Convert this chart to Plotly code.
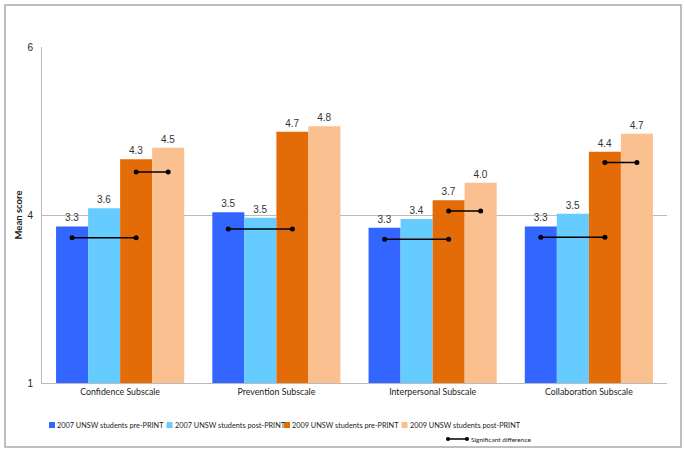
import plotly.graph_objects as go

categories = ["Confidence Subscale", "Prevention Subscale", "Interpersonal Subscale", "Collaboration Subscale"]
series_names = ["2007 UNSW students pre-PRINT", "2007 UNSW students post-PRINT",
                "2009 UNSW students pre-PRINT", "2009 UNSW students post-PRINT"]
pre_2007 = [3.33, 3.54, 3.31, 3.33]
post_2007 = [3.60, 3.46, 3.44, 3.52]
pre_2009 = [4.33, 4.74, 3.72, 4.44]
post_2009 = [4.50, 4.82, 3.98, 4.71]
series_values = [pre_2007, post_2007, pre_2009, post_2009]
colors = ["#3366FF", "#66CCFF", "#E36C09", "#FAC090"]

# significant-difference markers (y level), lower: bar1->bar3, upper: bar3->bar4
sig_lower = [3.16, 3.29, 3.14, 3.17]
sig_upper = [4.14, None, 3.56, 4.28]
sig_label = "Significant difference"

y_tickvals = [1, 3.5, 6]
y_ticktext = ["1", "4", "6"]

bargap = 0.18
bar_w = (1 - bargap) / 4
xs = list(range(len(categories)))

def bar_center(i, k):
    return i + (k - 1.5) * bar_w

fig = go.Figure()
for k, (name, vals, c) in enumerate(zip(series_names, series_values, colors)):
    fig.add_trace(go.Bar(
        x=xs, y=vals, name=name, marker=dict(color=c, line=dict(width=0)),
        texttemplate="%{y:.1f}", textposition="outside",
        textfont=dict(family="Liberation Sans, Arial", size=10, color="#333333"),
        showlegend=False, cliponaxis=False,
    ))

for i in xs:
    for lvl, (a, b) in ((sig_lower[i], (0, 2)), (sig_upper[i], (2, 3))):
        if lvl is None:
            continue
        fig.add_trace(go.Scatter(
            x=[bar_center(i, a), bar_center(i, b)], y=[lvl, lvl],
            mode="lines+markers", line=dict(color="black", width=1.5),
            marker=dict(color="black", size=5), name=sig_label,
            showlegend=False, cliponaxis=False,
        ))

W, H = 685, 453
L, R, T, B = 42, 18, 47, 70
pw, ph = W - L - R, H - T - B

def px(x):
    return (x - L) / pw

def py(y):
    return (H - B - y) / ph

shapes = [dict(type="rect", xref="paper", yref="paper",
               x0=px(5), x1=px(681), y0=py(447), y1=py(5),
               line=dict(color="#AAAAAA", width=1.5), fillcolor="rgba(0,0,0,0)", layer="below")]
annotations = []

# legend row (drawn manually to match the compact Excel-style legend)
leg_x0, leg_step, leg_y = 49, 117.5, 425
for k, (name, c) in enumerate(zip(series_names, colors)):
    sx = leg_x0 + k * leg_step
    shapes.append(dict(type="rect", xref="paper", yref="paper",
                       x0=px(sx), x1=px(sx + 6), y0=py(leg_y + 3), y1=py(leg_y - 3),
                       fillcolor=c, line=dict(width=0)))
    annotations.append(dict(xref="paper", yref="paper", x=px(sx + 6), y=py(leg_y),
                            xanchor="left", yanchor="middle", showarrow=False, text=name,
                            font=dict(family="Lato", size=7.3, color="#222222")))

# significant-difference legend entry
lx0, lx1, ly = 448, 467, 439
shapes.append(dict(type="line", xref="paper", yref="paper", x0=px(lx0), x1=px(lx1),
                   y0=py(ly), y1=py(ly), line=dict(color="black", width=1.5)))
for cx in (lx0, lx1):
    shapes.append(dict(type="circle", xref="paper", yref="paper",
                       x0=px(cx - 2), x1=px(cx + 2), y0=py(ly + 2), y1=py(ly - 2),
                       fillcolor="black", line=dict(width=0)))
annotations.append(dict(xref="paper", yref="paper", x=px(lx1 + 2), y=py(ly),
                        xanchor="left", yanchor="middle", showarrow=False, text=sig_label,
                        font=dict(family="Lato", size=6.5, color="#222222")))

fig.update_layout(
    width=W, height=H, margin=dict(l=L, r=R, t=T, b=B, autoexpand=False),
    paper_bgcolor="white", plot_bgcolor="white",
    barmode="group", bargap=bargap, bargroupgap=0,
    font=dict(family="Lato, Open Sans, sans-serif", color="#222222"),
    showlegend=False,
    xaxis=dict(range=[-0.5, 3.5], tickvals=xs, ticktext=categories, showgrid=False,
               showline=True, linecolor="#BBBBBB", linewidth=1, ticks="", automargin=False,
               tickfont=dict(family="Lato", size=8.8, color="#222222"), zeroline=False),
    yaxis=dict(range=[1, 6], tickvals=y_tickvals, ticktext=y_ticktext, showgrid=True,
               gridcolor="#BBBBBB", gridwidth=1, showline=True, linecolor="#BBBBBB",
               ticks="", ticklabelstandoff=6, zeroline=False, automargin=False,
               tickfont=dict(family="Liberation Sans, Arial", size=10, color="#222222"),
               title=dict(text="<b>Mean score</b>", standoff=3,
                          font=dict(family="Lato", size=9.5, color="#222222"))),
    shapes=shapes,
    annotations=annotations,
)

fig.write_html("out.html", config={"displayModeBar": False},
               post_script="document.body.style.margin='0';document.body.style.padding='0';")
